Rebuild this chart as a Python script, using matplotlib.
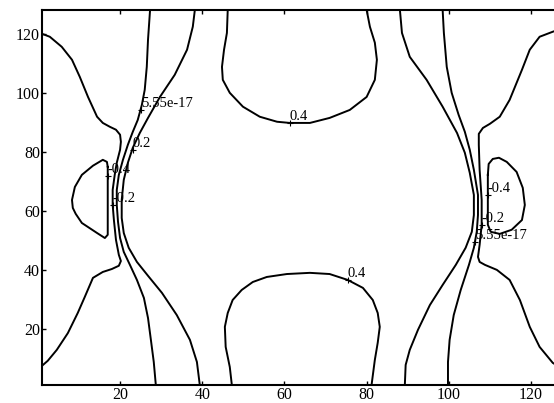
import numpy as np
import matplotlib.pyplot as plt

plt.rcParams['font.family'] = ['Liberation Serif', 'DejaVu Serif']

# contour levels; the zero level comes out as 5.55e-17 from round-off
levels = [-0.4, -0.2, 5.55e-17, 0.2, 0.4]

# traced contour lines, (x, y) in grid units
neg04_left = [(17.0, 74.9), (16.8, 76.6), (15.8, 77.3), (13.4, 75.3), (10.7, 72.2),
              (9.0, 68.1), (8.3, 63.7), (8.5, 61.0), (9.2, 59.0), (10.7, 55.9),
              (14.4, 52.5), (16.3, 50.8), (17.0, 51.9), (17.0, 56.9), (17.0, 63.7),
              (17.0, 70.5), (17.0, 74.9)]
neg04_right = [(109.5, 72.2), (109.7, 75.9), (110.7, 77.6), (112.2, 78.0), (114.1, 76.6),
               (116.5, 73.2), (118.0, 67.8), (118.5, 62.0), (117.8, 56.9), (115.3, 53.6),
               (112.4, 52.2), (110.2, 52.9), (109.5, 55.3), (109.5, 63.7), (109.5, 72.2)]

neg02_left = [(1.0, 120.0), (2.9, 119.0), (5.8, 115.6), (8.3, 111.2), (10.2, 105.4),
              (12.2, 98.6), (14.4, 91.9), (15.8, 89.8), (17.5, 88.5), (19.0, 87.5),
              (20.0, 85.8), (20.2, 83.4), (20.0, 80.7), (19.2, 76.3), (18.7, 72.2),
              (18.2, 67.1), (18.2, 62.0), (18.5, 56.9), (19.0, 50.2), (19.7, 45.1),
              (20.2, 43.0), (19.7, 41.4), (18.0, 40.3), (15.8, 39.3), (13.4, 37.3),
              (11.4, 30.8), (9.7, 25.4), (7.3, 18.6), (4.6, 12.9), (2.4, 9.2), (1.0, 7.5)]
neg02_right = [(128.0, 122.0), (125.3, 120.7), (122.1, 119.0), (119.7, 114.6), (117.8, 107.8),
               (114.8, 97.6), (112.4, 91.9), (110.0, 89.5), (108.3, 88.1), (107.3, 86.1),
               (107.3, 82.4), (107.5, 73.9), (108.0, 63.7), (108.0, 55.3), (107.5, 48.5),
               (107.1, 44.4), (107.5, 42.7), (108.8, 41.7), (111.7, 40.0), (114.8, 36.6),
               (117.3, 29.8), (119.7, 20.7), (122.1, 13.9), (125.3, 8.5), (128.0, 6.1)]

zero_left = [(27.3, 128.1), (26.8, 118.0), (26.5, 108.8), (26.0, 101.0), (25.3, 95.9),
             (24.3, 90.8), (23.1, 86.8), (21.9, 82.4), (20.7, 77.3), (19.7, 72.2),
             (19.2, 67.1), (19.2, 62.0), (19.5, 56.3), (20.0, 50.8), (20.9, 46.1),
             (22.4, 41.7), (24.1, 36.6), (25.8, 30.5), (26.8, 23.7), (27.5, 16.3),
             (28.2, 8.8), (28.7, 1.0)]
zero_right = [(98.5, 128.1), (98.8, 120.3), (99.5, 108.8), (100.7, 100.0), (102.4, 92.5),
              (103.9, 86.8), (105.1, 80.7), (106.1, 73.9), (107.1, 65.4), (107.1, 58.6),
              (106.8, 52.9), (106.1, 47.5), (104.9, 41.7), (102.9, 33.2), (101.2, 24.7),
              (100.2, 16.3), (99.8, 8.8), (99.8, 1.0)]

pos02_left = [(38.2, 128.1), (37.7, 122.4), (36.3, 114.6), (33.3, 106.1), (29.7, 98.6),
              (26.8, 91.5), (24.8, 86.4), (23.1, 81.4), (21.9, 76.3), (20.9, 70.5),
              (20.4, 63.7), (20.4, 57.6), (20.9, 52.5), (22.1, 47.5), (24.1, 42.7),
              (26.8, 38.0), (30.2, 32.2), (33.8, 24.7), (37.0, 16.3), (38.7, 8.8), (39.4, 1.0)]
pos02_right = [(88.1, 128.1), (88.6, 120.3), (90.5, 112.2), (94.6, 104.4), (98.5, 95.3),
               (102.0, 86.4), (103.9, 79.7), (105.1, 72.9), (106.1, 65.4), (106.1, 58.6),
               (105.6, 52.9), (104.1, 47.5), (101.7, 41.7), (98.5, 34.9), (95.4, 28.1),
               (92.5, 19.7), (90.5, 12.9), (89.5, 7.8), (89.3, 1.0)]

pos04_top = [(46.2, 128.1), (46.0, 120.3), (45.3, 114.6), (44.8, 108.8), (45.0, 104.4),
             (46.7, 100.0), (49.9, 95.3), (54.0, 91.9), (58.2, 90.2), (61.3, 89.8),
             (66.2, 89.8), (71.0, 91.5), (75.9, 94.2), (80.0, 98.6), (82.0, 104.4),
             (82.5, 111.2), (82.0, 117.0), (80.8, 122.4), (80.0, 128.1)]
pos04_bottom = [(47.2, 1.0), (46.7, 7.1), (45.7, 13.9), (45.5, 20.7), (46.2, 25.4),
                (47.4, 29.8), (49.6, 33.2), (52.3, 35.9), (55.7, 37.6), (60.6, 38.6),
                (66.2, 39.0), (71.0, 38.6), (75.4, 36.6), (79.1, 33.9), (81.5, 29.8),
                (82.7, 25.4), (83.2, 20.7), (82.7, 15.3), (82.0, 9.5), (81.2, 1.0)]

contours = [(neg04_left, -0.4), (neg04_right, -0.4),
            (neg02_left, -0.2), (neg02_right, -0.2),
            (zero_left, 5.55e-17), (zero_right, 5.55e-17),
            (pos02_left, 0.2), (pos02_right, 0.2),
            (pos04_top, 0.4), (pos04_bottom, 0.4)]

# clabel points: x, y, level
label_pts = [(25.1, 94.2, 5.55e-17), (23.1, 80.7, 0.2), (17.0, 71.9, -0.4),
             (18.2, 62.0, -0.2), (61.3, 89.8, 0.4), (75.4, 36.6, 0.4),
             (109.5, 65.4, -0.4), (108.0, 55.3, -0.2), (106.4, 49.5, 5.55e-17)]

fig = plt.figure(figsize=(5.54, 4.03), dpi=100)
ax = fig.add_axes([0.0758, 0.0447, 0.942, 0.930])

for pts, lev in contours:
    xy = np.array(pts)
    ax.plot(xy[:, 0], xy[:, 1], color='black', lw=1.4, solid_joinstyle='round')

for x, y, lev in label_pts:
    ax.plot(x, y, marker='+', color='black', ms=4, mew=0.8)
    ax.text(x, y, '%g' % lev, fontsize=10.5, ha='left', va='bottom', color='black')

ax.set_xlim(1, 128)
ax.set_ylim(1, 128)
ax.set_xticks([20, 40, 60, 80, 100, 120])
ax.set_yticks([20, 40, 60, 80, 100, 120])
ax.tick_params(direction='in', length=3, width=1, labelsize=11.5, top=True, right=True, pad=1.5)
for s in ax.spines.values():
    s.set_linewidth(1.5)

fig.savefig('out.png', dpi=100)
